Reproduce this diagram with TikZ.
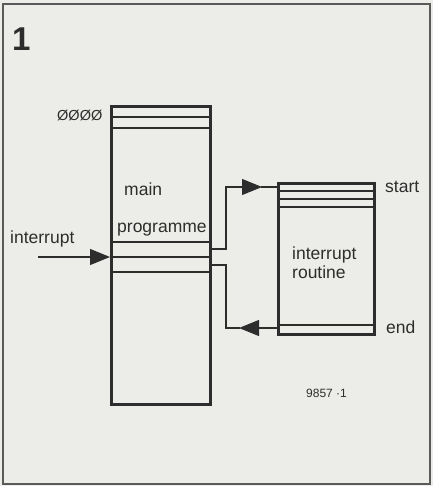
\documentclass[tikz,border=0pt]{standalone}
\usepackage{fontspec}
\setmainfont{Liberation Sans}
\usetikzlibrary{arrows.meta}
\definecolor{paper}{RGB}{236,236,232}
\definecolor{ink}{RGB}{45,45,45}
\definecolor{framec}{RGB}{90,90,90}
\tikzset{
  boxthick/.style={draw=ink,line width=2.6pt,inner sep=0pt,anchor=north west},
  thin/.style={draw=ink,line width=1.1pt},
  conn/.style={draw=ink,line width=1.1pt},
  tip/.style={-{Triangle[length=20pt,width=16pt]}},
  lbl/.style={text=ink,inner sep=0pt,anchor=base west,font=\fontsize{17.5}{17.5}\selectfont},
}
\begin{document}
\begin{tikzpicture}[x=1pt,y=-1pt]
\useasboundingbox (0,0) rectangle (433,486);
\fill[paper] (0,0) rectangle (433,486);
\draw[framec,line width=1.4pt] (3,4) rectangle (430,484);
% figure number
\node[text=ink,inner sep=0pt,anchor=base west,font=\fontsize{33}{33}\bfseries\selectfont] (num) at (12,51) {1};
% main programme box
\node[boxthick,minimum width=99pt,minimum height=298pt] (main) at (110,105) {};
\foreach \yy in {117,128,242,257,272}{
  \draw[thin] (main.west |- 0,\yy) -- (main.east |- 0,\yy);
}
\node[lbl,font=\fontsize{14.5}{14.5}\selectfont] (zero) at (57,121) {ØØØØ};
\node[lbl] (tmain) at (124,195) {main};
\node[lbl] (tprog) at (117,232) {programme};
\node[lbl] (tint) at (10,243) {interrupt};
% interrupt routine box
\node[boxthick,minimum width=96pt,minimum height=151pt] (isr) at (277,182) {};
\foreach \yy in {191,199,207,325}{
  \draw[thin] (isr.west |- 0,\yy) -- (isr.east |- 0,\yy);
}
\node[lbl] (tint2) at (292,259) {interrupt};
\node[lbl] (trout) at (292,278) {routine};
\node[lbl] (tstart) at (385,192) {start};
\node[lbl] (tend) at (386,333) {end};
\node[text=ink,inner sep=0pt,anchor=base west,font=\fontsize{12}{12}\selectfont] (fig) at (306,397) {9857 ·1};
% interrupt arrow
\coordinate (irqin) at (38,257);
\draw[conn,tip] (irqin) -- (main.west |- irqin);
% jump to routine
\coordinate (j1) at (226,249);
\coordinate (j2) at (226,187);
\coordinate (jt) at (262,187);
\draw[conn,tip] (main.east |- j1) -- (j1) -- (j2) -- (jt);
\draw[conn] ([xshift=-1pt]jt) -- (isr.west |- jt);
% return
\coordinate (r1) at (226,328);
\coordinate (r2) at (226,265);
\coordinate (rt) at (239,328);
\draw[conn,tip] (isr.west |- r1) -- (rt);
\draw[conn] ([xshift=1pt]rt) -- (r1) -- (r2) -- (main.east |- r2);
\end{tikzpicture}
\end{document}
